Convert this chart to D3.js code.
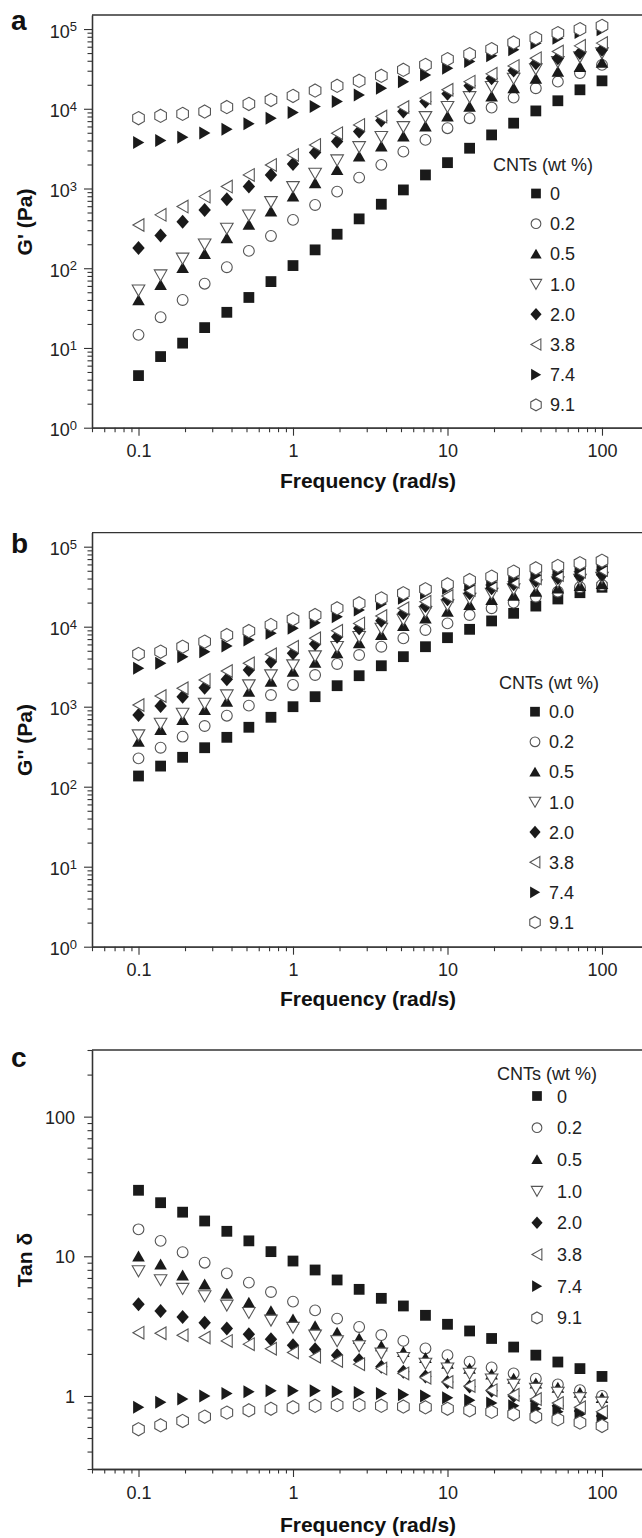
<!DOCTYPE html>
<html><head><meta charset="utf-8">
<script src="https://cdn.jsdelivr.net/npm/d3@7"></script>
<style>
body{margin:0;background:#fff;}
svg{display:block;font-family:"Liberation Sans",Arial,sans-serif;}
</style></head>
<body><svg id="c" width="642" height="1538"></svg>
<script>
// ---------- DATA ----------
const freq = [0.1, 0.139, 0.193, 0.268, 0.373, 0.518, 0.72, 1, 1.39, 1.93, 2.68, 3.73, 5.18, 7.2, 10, 13.9, 19.3, 26.8, 37.3, 51.8, 72, 100];
const cntLabelsA = ["0","0.2","0.5","1.0","2.0","3.8","7.4","9.1"];
const cntLabelsB = ["0.0","0.2","0.5","1.0","2.0","3.8","7.4","9.1"];
const markerTypes = ["square","circle","triUp","triDown","diamond","triLeft","triRight","hexagon"];

// Panel a : G' (Pa)
const gp_0   = [4.5, 7.8, 11.5, 18, 28, 43, 68, 108, 170, 267, 416, 635, 960, 1480, 2110, 3200, 4700, 6600, 9400, 12600, 17300, 22400];
const gp_02  = [14.6, 24.3, 40, 64, 103, 165, 254, 404, 622, 914, 1370, 1980, 2900, 4070, 5710, 7620, 10350, 13800, 18100, 21900, 28000, 35500];
const gp_05  = [40, 62, 101, 152, 239, 352, 516, 796, 1170, 1720, 2530, 3380, 4510, 6010, 8040, 10700, 14300, 18200, 23900, 29400, 33700, 37900];
const gp_10  = [53, 82, 133, 200, 316, 463, 681, 1050, 1545, 2270, 3330, 4460, 5940, 7930, 10600, 14100, 18900, 24000, 31500, 38800, 44500, 50000];
const gp_20  = [180, 258, 384, 539, 734, 1057, 1482, 2036, 2830, 3880, 5170, 7110, 9230, 12300, 15400, 19400, 24200, 30100, 37300, 43100, 49900, 54800];
const gp_38  = [349, 467, 593, 791, 1057, 1482, 1977, 2640, 3520, 4940, 6280, 7980, 10500, 13600, 17300, 21900, 27400, 34500, 43100, 52200, 61500, 66600];
const gp_74  = [3770, 3990, 4400, 4950, 5550, 6470, 7620, 8960, 10700, 12300, 14900, 18100, 21900, 26600, 32300, 39100, 46100, 54800, 66500, 76900, 90400, 97700];
const gp_91  = [7620, 8150, 8630, 9230, 10500, 11500, 12900, 14500, 16900, 19400, 22400, 25900, 30800, 35500, 41900, 48400, 56000, 67700, 76900, 88900, 99800, 109600];

// Panel b : G'' (Pa)
const gpp_0  = [136, 181, 233, 307, 414, 553, 737, 1000, 1334, 1830, 2440, 3250, 4220, 5620, 7290, 9270, 11800, 14700, 18100, 22200, 26600, 31100];
const gpp_02 = [226, 307, 422, 574, 772, 1030, 1400, 1870, 2490, 3420, 4430, 5620, 7160, 9100, 11000, 14000, 17000, 20000, 23700, 27400, 31100, 33200];
const gpp_05 = [367, 513, 684, 912, 1161, 1549, 2065, 2754, 3573, 4667, 6223, 7907, 10233, 12764, 15488, 18750, 21627, 24547, 27542, 30200, 32359, 34277];
const gpp_10 = [442, 617, 822, 1096, 1396, 1862, 2483, 3311, 4295, 5610, 7482, 9506, 12303, 15346, 18621, 22542, 26002, 29512, 33113, 36308, 38905, 41210];
const gpp_20 = [787, 1020, 1330, 1730, 2200, 2870, 3650, 4650, 6080, 7500, 9550, 11900, 14700, 18100, 22000, 26200, 30200, 34000, 37600, 40500, 43000, 44700];
const gpp_38 = [1050, 1360, 1700, 2160, 2790, 3490, 4520, 5620, 7160, 8910, 11000, 13600, 17000, 20500, 24200, 28700, 33200, 36500, 40300, 44300, 48700, 51100];
const gpp_74 = [3020, 3490, 4220, 4870, 5740, 6820, 8260, 9550, 11200, 13300, 16200, 19200, 22600, 26200, 30200, 33000, 36000, 40000, 44000, 48500, 53000, 57000];
const gpp_91 = [4560, 4870, 5620, 6500, 7870, 8830, 10500, 12400, 14000, 17000, 19600, 22600, 26200, 29400, 33900, 38300, 42200, 48700, 53700, 57400, 62100, 66800];

// Panel c : Tan delta
const tan_0  = [29.7, 24.2, 20.7, 17.9, 15.1, 12.9, 10.8, 9.25, 7.98, 6.77, 5.8, 5.0, 4.41, 3.78, 3.26, 2.92, 2.58, 2.24, 1.96, 1.75, 1.57, 1.38];
const tan_02 = [15.6, 12.9, 10.7, 9.0, 7.55, 6.48, 5.55, 4.74, 4.1, 3.58, 3.12, 2.73, 2.48, 2.19, 1.96, 1.76, 1.6, 1.45, 1.33, 1.21, 1.1, 1.0];
const tan_05 = [10.0, 8.77, 7.31, 6.31, 5.41, 4.66, 4.06, 3.54, 3.17, 2.84, 2.58, 2.28, 2.07, 1.88, 1.71, 1.57, 1.43, 1.33, 1.23, 1.15, 1.06, 0.97];
const tan_10 = [7.85, 6.77, 5.87, 5.2, 4.46, 3.95, 3.48, 3.09, 2.72, 2.48, 2.28, 2.02, 1.88, 1.71, 1.58, 1.45, 1.32, 1.21, 1.13, 1.06, 0.97, 0.90];
const tan_20 = [4.53, 4.06, 3.68, 3.35, 3.04, 2.77, 2.55, 2.31, 2.16, 1.96, 1.81, 1.62, 1.49, 1.38, 1.26, 1.17, 1.09, 1.0, 0.92, 0.85, 0.78, 0.72];
const tan_38 = [2.84, 2.81, 2.72, 2.62, 2.48, 2.35, 2.18, 2.05, 1.91, 1.78, 1.69, 1.57, 1.45, 1.35, 1.26, 1.18, 1.1, 1.02, 0.95, 0.89, 0.83, 0.77];
const tan_74 = [0.83, 0.90, 0.95, 1.0, 1.04, 1.07, 1.09, 1.09, 1.09, 1.07, 1.06, 1.04, 1.02, 1.0, 0.97, 0.93, 0.89, 0.85, 0.81, 0.77, 0.74, 0.69];
const tan_91 = [0.578, 0.617, 0.662, 0.711, 0.76, 0.79, 0.81, 0.83, 0.85, 0.86, 0.86, 0.85, 0.84, 0.83, 0.81, 0.79, 0.77, 0.74, 0.71, 0.68, 0.645, 0.61];

const xMajor = [0.1, 1, 10, 100];
const xTickLabels = ["0.1", "1", "10", "100"];
const yMajorAB = [1, 10, 100, 1000, 10000, 100000];
const yExpAB = ["0", "1", "2", "3", "4", "5"];
const yMajorC = [1, 10, 100];
const yTickLabelsC = ["1", "10", "100"];

// ---------- LAYOUT ----------
const svg = d3.select("#c");
const INK = "#1a1a1a", AX = "#333";
const X0 = 92, X1 = 648.5;

function minorTicks(lo, hi) {
  const out = [];
  for (let e = -3; e <= 6; e++) {
    for (let m = 2; m <= 9; m++) {
      const v = m * Math.pow(10, e);
      if (v >= lo * 0.999 && v <= hi * 1.001) out.push(v);
    }
  }
  return out;
}

function shapePath(type, s) {
  const p = d3.path();
  const poly = pts => { p.moveTo(pts[0][0]*s, pts[0][1]*s); pts.slice(1).forEach(q => p.lineTo(q[0]*s, q[1]*s)); p.closePath(); };
  switch (type) {
    case "square": poly([[-5.4,-5.4],[5.4,-5.4],[5.4,5.4],[-5.4,5.4]]); break;
    case "circle": p.moveTo(5.4*s,0); p.arc(0,0,5.4*s,0,Math.PI*2); p.closePath(); break;
    case "triUp": poly([[0,-5.8],[6.3,5.2],[-6.3,5.2]]); break;
    case "triDown": poly([[0,5.8],[6.3,-5.2],[-6.3,-5.2]]); break;
    case "triLeft": poly([[-5.6,0],[5.4,-6.3],[5.4,6.3]]); break;
    case "triRight": poly([[5.8,0],[-5.4,-6.5],[-5.4,6.5]]); break;
    case "diamond": poly([[0,-7],[6.2,0],[0,7],[-6.2,0]]); break;
    case "hexagon": poly([[0,-6.6],[5.8,-3.3],[5.8,3.3],[0,6.6],[-5.8,3.3],[-5.8,-3.3]]); break;
  }
  return p.toString();
}
const isOpen = t => ["circle","triDown","triLeft","hexagon"].includes(t);
function styleMarker(sel, type) {
  if (isOpen(type)) sel.attr("fill", "#fff").attr("stroke", "#555").attr("stroke-width", 1.1);
  else sel.attr("fill", INK).attr("stroke", "none");
}

function panel(cfg) {
  const x = d3.scaleLog().domain([0.05, 200]).range([X0, X1]);
  const y = d3.scaleLog().domain(cfg.yDomain).range([cfg.yBottom, cfg.yTop]);
  const g = svg.append("g");

  // top frame
  g.append("line").attr("x1", X0).attr("x2", 642).attr("y1", cfg.yTop).attr("y2", cfg.yTop)
    .attr("stroke", AX).attr("stroke-width", 1.3);

  // x axis
  const xMinorAx = d3.axisBottom(x).tickValues(minorTicks(0.05, 200).filter(v => !xMajor.includes(v)))
    .tickSize(4.5).tickFormat("").tickSizeOuter(0);
  const xMajorAx = d3.axisBottom(x).tickValues(xMajor).tickSize(8).tickFormat("").tickSizeOuter(0);
  const gx1 = g.append("g").attr("transform", `translate(0,${cfg.yBottom})`).call(xMinorAx);
  const gx2 = g.append("g").attr("transform", `translate(0,${cfg.yBottom})`).call(xMajorAx);
  [gx1, gx2].forEach(a => { a.selectAll("path.domain").attr("stroke", AX).attr("stroke-width", 1.3);
    a.selectAll(".tick line").attr("stroke", AX).attr("stroke-width", 1.1); });
  gx2.selectAll(".tick").append("text").data(xTickLabels)
    .attr("y", 29.5).attr("text-anchor", "middle").attr("fill", "#222")
    .style("font-size", "18px").text(d => d);

  // y axis
  const yMaj = cfg.yMajor;
  const yMinorAx = d3.axisLeft(y).tickValues(minorTicks(cfg.yDomain[0], cfg.yDomain[1]).filter(v => !yMaj.includes(v)))
    .tickSize(4.5).tickFormat("").tickSizeOuter(0);
  const yMajorAx = d3.axisLeft(y).tickValues(yMaj).tickSize(8).tickFormat("").tickSizeOuter(0);
  const gy1 = g.append("g").attr("transform", `translate(${X0},0)`).call(yMinorAx);
  const gy2 = g.append("g").attr("transform", `translate(${X0},0)`).call(yMajorAx);
  [gy1, gy2].forEach(a => { a.selectAll("path.domain").attr("stroke", AX).attr("stroke-width", 1.3);
    a.selectAll(".tick line").attr("stroke", AX).attr("stroke-width", 1.1); });
  if (cfg.sup) {
    const t = gy2.selectAll(".tick").append("text").data(cfg.yLabels)
      .attr("x", -15).attr("y", 8).attr("text-anchor", "end").attr("fill", "#222");
    t.append("tspan").style("font-size", "18px").text("10");
    t.append("tspan").style("font-size", "13px").attr("dy", -6.5).text(d => d);
  } else {
    gy2.selectAll(".tick").append("text").data(cfg.yLabels)
      .attr("x", -17).attr("y", 6.5).attr("text-anchor", "end").attr("fill", "#222")
      .style("font-size", "18px").text(d => d);
  }

  // titles
  g.append("text").attr("x", 368).attr("y", cfg.xTitleY).attr("text-anchor", "middle")
    .attr("fill", "#111").style("font-size", "21px").style("font-weight", "bold").text("Frequency (rad/s)");
  g.append("text").attr("transform", `translate(${cfg.yTitleX},${cfg.yTitleY}) rotate(-90)`)
    .attr("text-anchor", "middle").attr("fill", "#111").style("font-size", "21px").style("font-weight", "bold")
    .text(cfg.yTitle);
  g.append("text").attr("x", 11).attr("y", cfg.letterY).attr("fill", "#111")
    .style("font-size", "28px").style("font-weight", "bold").text(cfg.letter);

  // data
  cfg.series.forEach((vals, i) => {
    const type = markerTypes[i];
    const pts = g.append("g").selectAll("path").data(vals.map((v, k) => [freq[k], v])).join("path")
      .attr("d", shapePath(type, 1))
      .attr("transform", d => `translate(${x(d[0])},${y(d[1])})`);
    styleMarker(pts, type);
  });

  // legend
  const lg = g.append("g");
  lg.append("text").attr("x", cfg.leg.titleX).attr("y", cfg.leg.titleY).attr("fill", "#222")
    .style("font-size", "18px").text("CNTs (wt %)");
  cfg.leg.labels.forEach((lab, i) => {
    const cy = cfg.leg.y0 + i * cfg.leg.dy;
    const m = lg.append("path").attr("d", shapePath(markerTypes[i], 0.9))
      .attr("transform", `translate(${cfg.leg.symX},${cy})`);
    styleMarker(m, markerTypes[i]);
    lg.append("text").attr("x", cfg.leg.textX).attr("y", cy + 6.5).attr("fill", "#222")
      .style("font-size", "18px").text(lab);
  });
}

panel({
  letter: "a", letterY: 30,
  yDomain: [1, 1.5e5], yTop: 15, yBottom: 427.7,
  yMajor: yMajorAB, yLabels: yExpAB, sup: true,
  yTitle: "G' (Pa)", yTitleX: 32, yTitleY: 222, xTitleY: 488,
  series: [gp_0, gp_02, gp_05, gp_10, gp_20, gp_38, gp_74, gp_91],
  leg: { titleX: 493, titleY: 170.5, symX: 536, textX: 550, y0: 193.5, dy: 30.2, labels: cntLabelsA }
});
panel({
  letter: "b", letterY: 553,
  yDomain: [1, 1.5e5], yTop: 532.6, yBottom: 946.7,
  yMajor: yMajorAB, yLabels: yExpAB, sup: true,
  yTitle: "G'' (Pa)", yTitleX: 32, yTitleY: 740, xTitleY: 1006,
  series: [gpp_0, gpp_02, gpp_05, gpp_10, gpp_20, gpp_38, gpp_74, gpp_91],
  leg: { titleX: 499, titleY: 689, symX: 535, textX: 549, y0: 711.7, dy: 30.1, labels: cntLabelsB }
});
panel({
  letter: "c", letterY: 1067,
  yDomain: [0.3, 300], yTop: 1050, yBottom: 1469,
  yMajor: yMajorC, yLabels: yTickLabelsC, sup: false,
  yTitle: "Tan δ", yTitleX: 32, yTitleY: 1260, xTitleY: 1532,
  series: [tan_0, tan_02, tan_05, tan_10, tan_20, tan_38, tan_74, tan_91],
  leg: { titleX: 497, titleY: 1079.5, symX: 537, textX: 557, y0: 1096, dy: 31.7, labels: cntLabelsA }
});
</script></body></html>
